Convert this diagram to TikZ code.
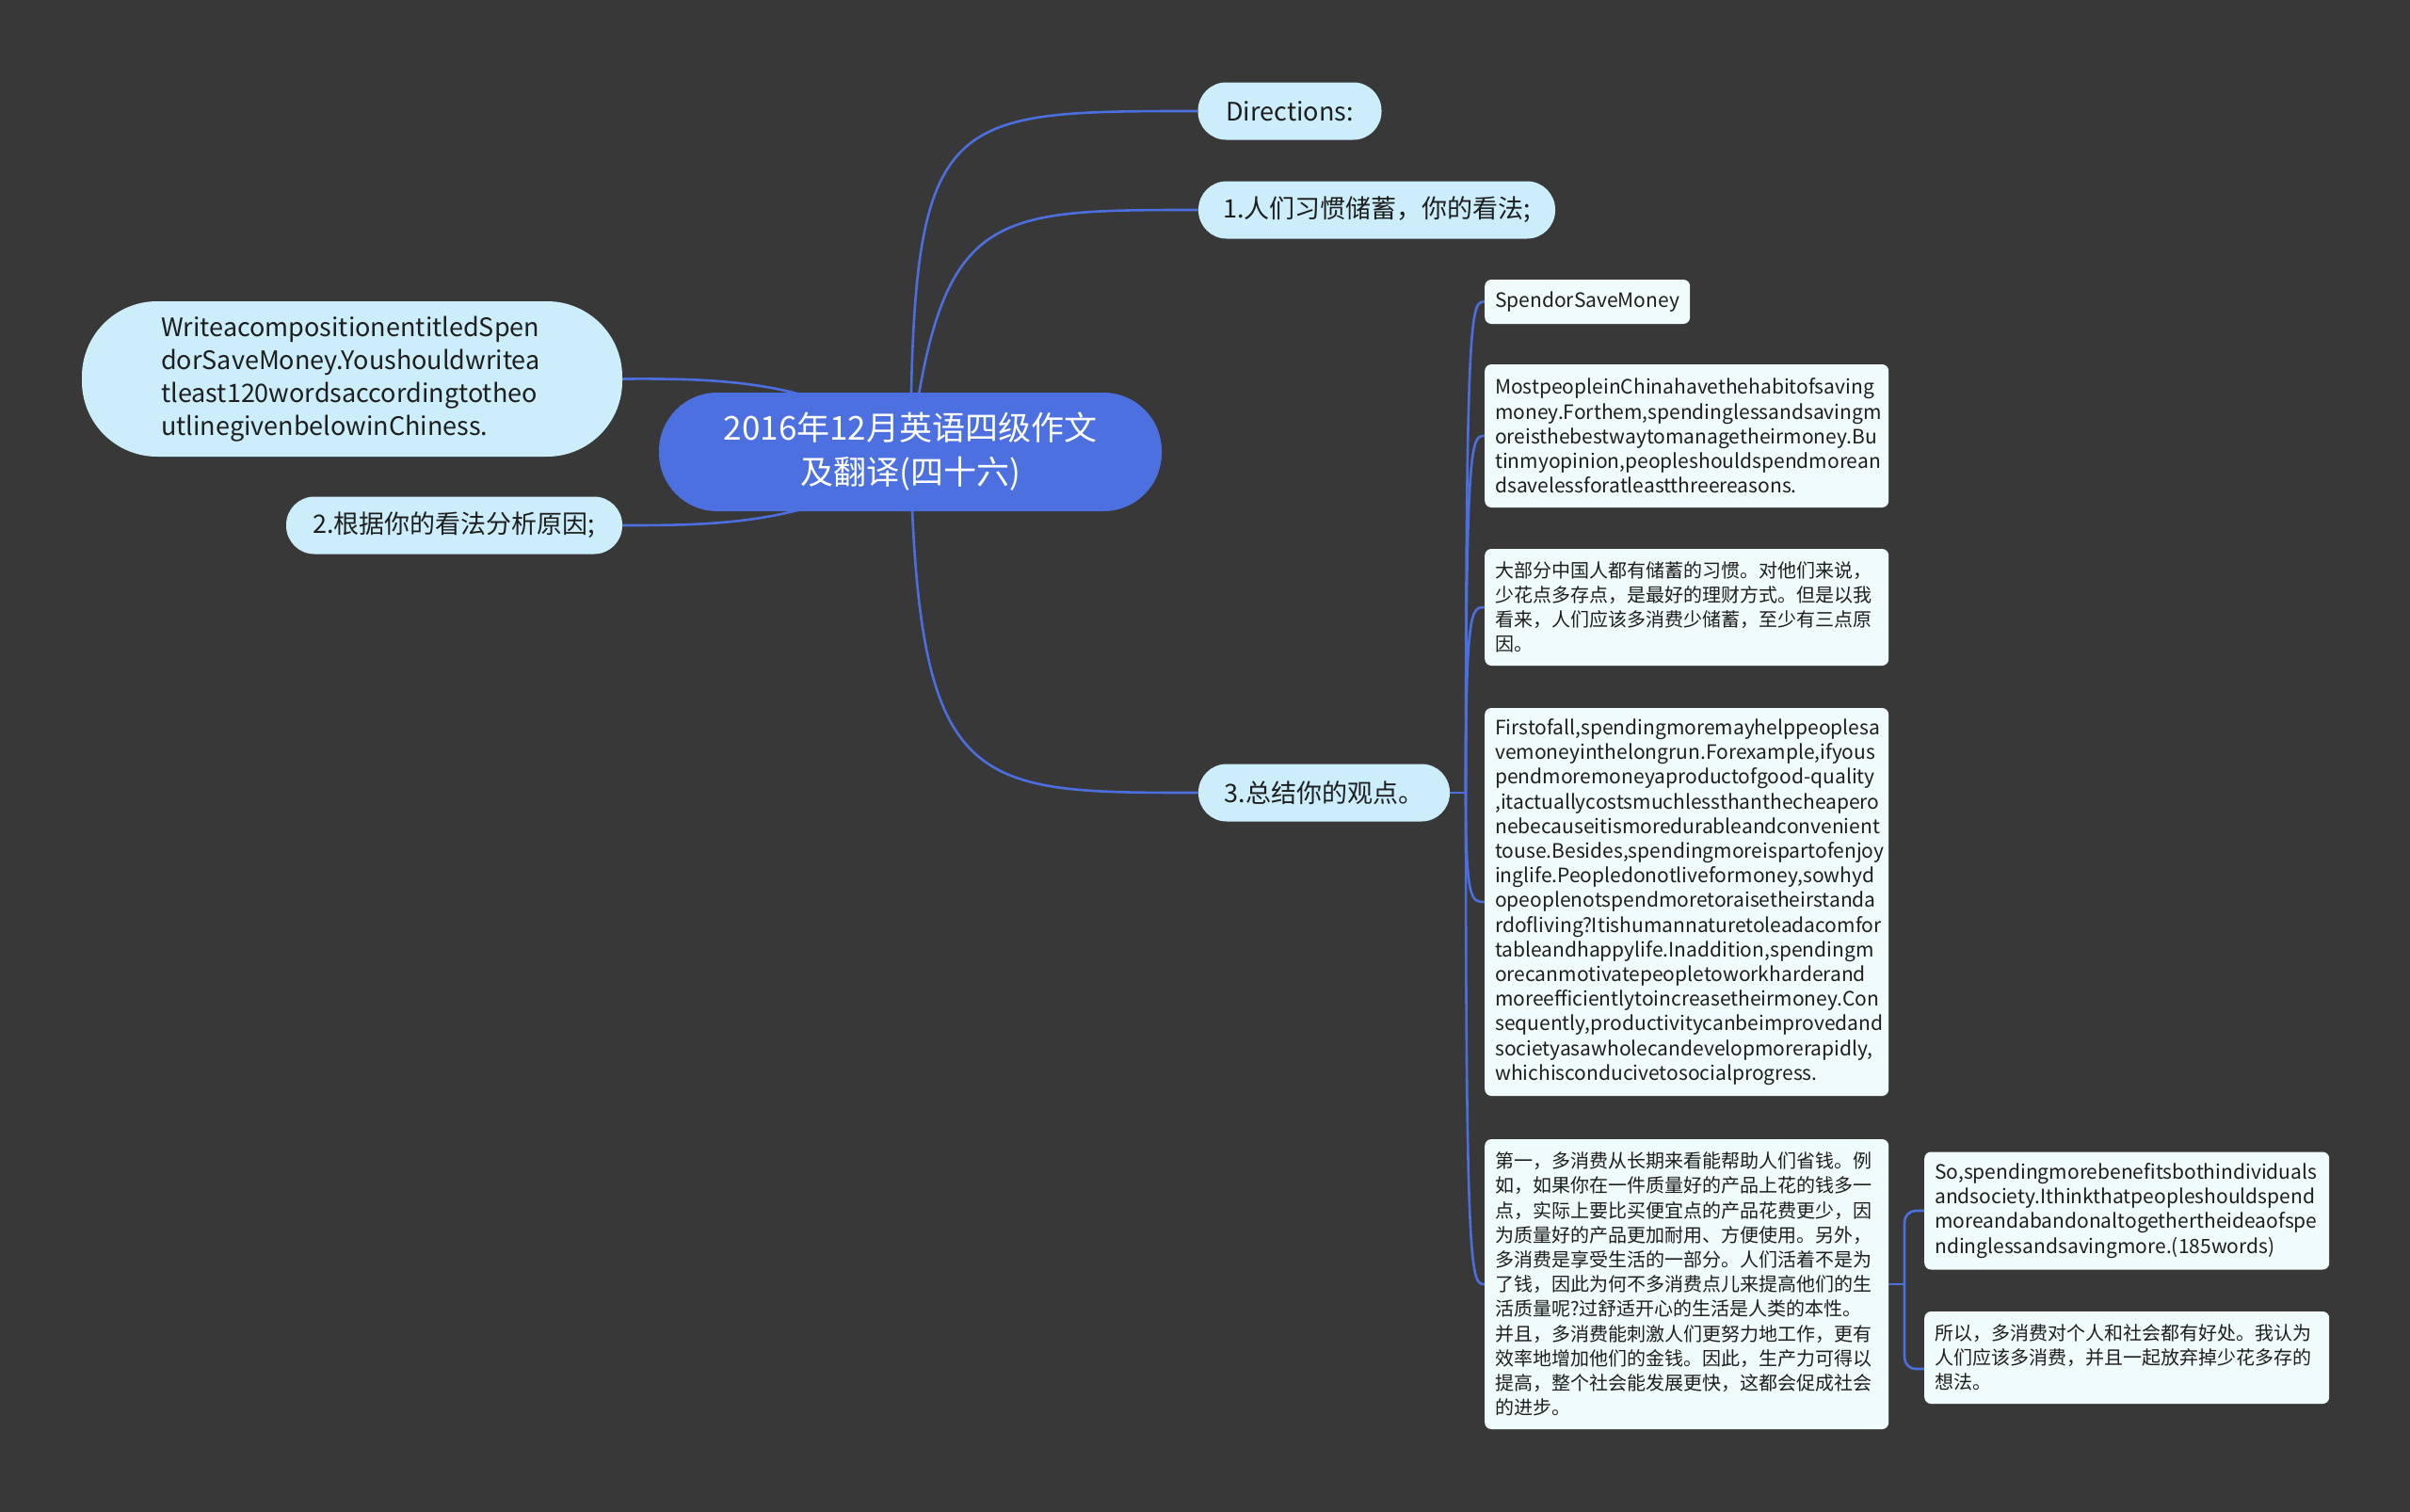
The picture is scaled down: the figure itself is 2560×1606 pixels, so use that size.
\documentclass[tikz,border=0pt]{standalone}
\usepackage{fontspec}
\setmainfont{Noto Sans CJK SC}
\definecolor{bgc}{HTML}{383838}
\definecolor{linec}{HTML}{4B6FDE}
\definecolor{rootc}{HTML}{4D70E0}
\definecolor{lonec}{HTML}{CCEEFB}
\definecolor{leafc}{HTML}{F0FBFC}
\definecolor{txtc}{HTML}{1E1E1E}
\pgfdeclarelayer{bgl}
\pgfdeclarelayer{edgel}
\pgfsetlayers{bgl,edgel,main}
\begin{document}
\begin{tikzpicture}[x=1pt,y=-1pt,
  rootbox/.style={fill=rootc, rounded corners=62, minimum width=534, minimum height=126, inner sep=0, align=center, text=white, font=\fontsize{35}{47}\selectfont},
  lonebox/.style={fill=lonec, rounded corners=30, minimum height=61, inner sep=0, text=txtc, font=\fontsize{27}{35}\selectfont},
  leafbox/.style={fill=leafc, rounded corners=7, anchor=west, align=left, inner xsep=11, inner ysep=0, text=txtc, font=\fontsize{20}{26.2}\selectfont},
  latinleaf/.style={leafbox, font=\fontsize{21}{26.2}\selectfont},
  conn/.style={draw=linec, line width=2.6pt}
]
\begin{pgfonlayer}{bgl}
\fill[bgc] (0,0) rectangle (2560,1606);
\end{pgfonlayer}
\useasboundingbox (0,0) rectangle (2560,1606);

% root
\node[rootbox] (R) at (967,480) {2016年12月英语四级作文\\及翻译(四十六)};

% left nodes
\node[lonebox, minimum width=574, minimum height=165, rounded corners=80] (W) at (374,402.5) {};
\node[anchor=west, align=left, inner sep=0, text=txtc, font=\fontsize{27}{35}\selectfont] (Wt) at (171,402.5) {WriteacompositionentitledSpen\\dorSaveMoney.Youshouldwritea\\tleast120wordsaccordingtotheo\\utlinegivenbelowinChiness.};
\node[lonebox, minimum width=357] (T2) at (482.5,558) {2.根据你的看法分析原因;};

% right level-1
\node[lonebox, minimum width=195] (D) at (1370,118) {Directions:};
\node[lonebox, minimum width=379] (T1) at (1462.5,223) {1.人们习惯储蓄，你的看法;};
\node[lonebox, minimum width=267] (T3) at (1406.5,842) {3.总结你的观点。};

% leaves
\node[latinleaf, minimum width=217, minimum height=47] (A1) at (1577,320.5) {SpendorSaveMoney};
\node[latinleaf, text width=407, minimum height=152] (A2) at (1577,463) {MostpeopleinChinahavethehabitofsaving\\money.Forthem,spendinglessandsavingm\\oreisthebestwaytomanagetheirmoney.Bu\\tinmyopinion,peopleshouldspendmorean\\dsavelessforatleastthreereasons.};
\node[leafbox, text width=407, minimum height=124] (A3) at (1577,645) {大部分中国人都有储蓄的习惯。对他们来说，\\少花点多存点，是最好的理财方式。但是以我\\看来，人们应该多消费少储蓄，至少有三点原\\因。};
\node[latinleaf, text width=407, minimum height=412] (A4) at (1577,958) {Firstofall,spendingmoremayhelppeoplesa\\vemoneyinthelongrun.Forexample,ifyous\\pendmoremoneyaproductofgood-quality\\,itactuallycostsmuchlessthanthecheapero\\nebecauseitismoredurableandconvenient\\touse.Besides,spendingmoreispartofenjoy\\inglife.Peopledonotliveformoney,sowhyd\\opeoplenotspendmoretoraisetheirstanda\\rdofliving?Itishumannaturetoleadacomfor\\tableandhappylife.Inaddition,spendingm\\orecanmotivatepeopletoworkharderand\\moreefficientlytoincreasetheirmoney.Con\\sequently,productivitycanbeimprovedand\\societyasawholecandevelopmorerapidly,\\whichisconducivetosocialprogress.};
\node[leafbox, text width=407, minimum height=308] (A5) at (1577,1364) {第一，多消费从长期来看能帮助人们省钱。例\\如，如果你在一件质量好的产品上花的钱多一\\点，实际上要比买便宜点的产品花费更少，因\\为质量好的产品更加耐用、方便使用。另外，\\多消费是享受生活的一部分。人们活着不是为\\了钱，因此为何不多消费点儿来提高他们的生\\活质量呢?过舒适开心的生活是人类的本性。\\并且，多消费能刺激人们更努力地工作，更有\\效率地增加他们的金钱。因此，生产力可得以\\提高，整个社会能发展更快，这都会促成社会\\的进步。};
\node[latinleaf, text width=408, minimum height=125] (B1) at (2044,1286) {So,spendingmorebenefitsbothindividuals\\andsociety.Ithinkthatpeopleshouldspend\\moreandabandonaltogethertheideaofspe\\ndinglessandsavingmore.(185words)};
\node[leafbox, text width=408, minimum height=98] (B2) at (2044,1442) {所以，多消费对个人和社会都有好处。我认为\\人们应该多消费，并且一起放弃掉少花多存的\\想法。};

\coordinate (J1) at (1557,842);
\coordinate (J2) at (2023,1364);

\begin{pgfonlayer}{edgel}
\draw[conn] (R.center) .. controls (970,118) and (1000,118) .. (D.west);
\draw[conn] (R.center) .. controls (1000,223) and (1050,223) .. (T1.west);
\draw[conn] (R.center) .. controls (975,842) and (1030,842) .. (T3.west);
\draw[conn] (R.center) .. controls (880,402) and (760,402) .. (W.east);
\draw[conn] (R.center) .. controls (880,558) and (760,558) .. (T2.east);
\draw[conn] (T3.east) -- (J1);
\foreach \n in {A1,A2,A3,A4,A5}{
  \draw[conn] (J1) .. controls (J1 |- \n.west) and ([xshift=-14]\n.west) .. (\n.west);
}
\draw[conn] (A5.east) -- (J2);
\draw[conn, rounded corners=12] (J2) |- (B1.west);
\draw[conn, rounded corners=12] (J2) |- ([yshift=-12]B2.west);
\end{pgfonlayer}
\end{tikzpicture}
\end{document}
